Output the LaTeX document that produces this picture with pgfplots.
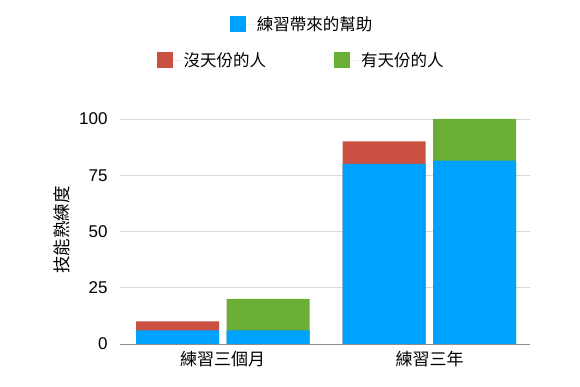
\documentclass[border=0pt]{standalone}
\usepackage{pgfplots}
\pgfplotsset{compat=1.18}
\usepackage{fontspec}
\setmainfont{Liberation Sans}
\newfontfamily\cjk{Noto Sans CJK TC}
\definecolor{cblue}{HTML}{00A2FF}
\definecolor{cred}{HTML}{CA5142}
\definecolor{cgreen}{HTML}{6BAE36}
\pgfplotsset{sq legend/.style={legend image code/.code={\fill[##1] (0pt,-8pt) rectangle (16pt,8pt); \path (0pt,0pt) -- (25pt,0pt);}}}
\begin{document}
\begin{tikzpicture}[x=1pt,y=1pt]
\path[use as bounding box] (0,0) rectangle (580,387);
\begin{axis}[
  at={(120pt,43pt)}, anchor=south west,
  scale only axis, width=410pt, height=225pt,
  xmin=120, xmax=530, ymin=0, ymax=100,
  axis x line*=bottom, axis y line*=left,
  y axis line style={draw=none},
  x axis line style={draw=black!45, line width=0.8pt},
  ymajorgrids, major grid style={draw=black!15, line width=0.6pt},
  tick style={draw=none},
  ytick={0,25,50,75,100},
  xtick={222.5,429.5},
  xticklabels={練習三個月,練習三年},
  /pgf/number format/assume math mode=true,
  yticklabel style={font=\fontsize{17}{20}\selectfont, xshift=-9pt},
  xticklabel style={font=\fontsize{17}{20}\selectfont\cjk, yshift=-4pt},
  ylabel={技能熟練度},
  ylabel style={font=\fontsize{17.5}{20}\selectfont\cjk, at={(axis description cs:-0.1415,0.507)}, anchor=center},
  legend entries={沒天份的人,有天份的人},
  legend columns=2,
  legend style={draw=none, fill=none, at={(axis description cs:0.442,1.262)}, anchor=center,
    font=\fontsize{16.5}{20}\selectfont\cjk,
    /tikz/every even column/.append style={column sep=66pt}},
]
\addplot[ybar, bar shift=0pt, bar width=83, fill=cred, draw=none, sq legend] coordinates {(177.5,10) (384,90)};
\addplot[ybar, bar shift=0pt, bar width=83, fill=cgreen, draw=none, sq legend] coordinates {(268,20) (474.5,100)};
\addplot[ybar, bar shift=0pt, bar width=83, fill=cblue, draw=none, sq legend] coordinates {(177.5,6) (268,6) (384,80) (474.5,81.5)};
\end{axis}
\begin{axis}[
  at={(120pt,43pt)}, anchor=south west,
  scale only axis, width=410pt, height=225pt,
  xmin=120, xmax=530, ymin=0, ymax=100,
  hide axis,
  legend style={draw=none, fill=none, at={(axis description cs:0.444,1.422)}, anchor=center,
    font=\fontsize{16.5}{20}\selectfont\cjk},
]
\addlegendimage{sq legend, fill=cblue, draw=none}
\addlegendentry{練習帶來的幫助}
\end{axis}
\end{tikzpicture}
\end{document}
